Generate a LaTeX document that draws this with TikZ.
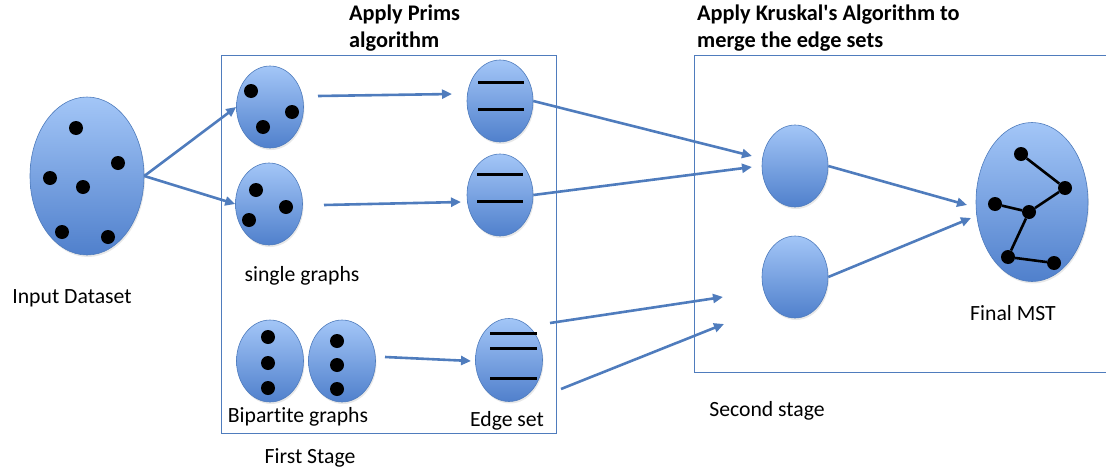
\documentclass[tikz,border=0pt]{standalone}
\usepackage{fontspec}
\setmainfont{Carlito}[Ligatures={TeX,NoCommon}]
\usetikzlibrary{shapes.geometric,arrows.meta,shadows}
\definecolor{edgeblue}{RGB}{79,124,189}
\definecolor{balltop}{RGB}{163,198,247}
\definecolor{ballbot}{RGB}{80,128,204}
\tikzset{
  ball/.style={ellipse, inner sep=0pt, draw=edgeblue, line width=0.6pt,
    top color=balltop, bottom color=ballbot,
    drop shadow={opacity=0.18, shadow xshift=1pt, shadow yshift=-2pt}},
  dot/.style={circle, fill=black, inner sep=0pt, minimum size=14pt},
  arr/.style={draw=edgeblue, line width=2.6pt, -{Triangle[length=10pt,width=9pt]}},
  bar/.style={line width=3pt, black},
  mstedge/.style={line width=2.6pt, black},
  stagebox/.style={draw=edgeblue, line width=1pt},
  lbl/.style={font=\fontsize{21.7}{26}\selectfont},
  title/.style={font=\fontsize{22.3}{26.5}\selectfont\bfseries, align=left, anchor=north west, inner sep=0pt}
}
\begin{document}
\begin{tikzpicture}[x=1pt,y=-1pt]
\useasboundingbox (0,0) rectangle (1106,474);

% stage frames
\draw[stagebox] (221,55) rectangle (556,433);
\draw[stagebox] (1106,55) -- (694,55) -- (694,372) -- (1106,372);

% titles
\node[title] (ttlprim) at (349,5) {Apply Prims\\algorithm};
\node[title] (ttlkrus) at (697,5) {Apply Kruskal\textquotesingle s Algorithm to\\merge the edge sets};

% input dataset
\node[ball, minimum width=114pt, minimum height=158pt] (in) at (87,176) {};
\node[dot] (in1) at (76,128) {};
\node[dot] (in2) at (118,163) {};
\node[dot] (in3) at (50,178) {};
\node[dot] (in4) at (83,187) {};
\node[dot] (in5) at (62,232) {};
\node[dot] (in6) at (108,237) {};
\node[lbl] (inlbl) at (72,298) {Input Dataset};

% single graphs
\node[ball, minimum width=67pt, minimum height=82pt] (g1) at (270,107) {};
\node[dot] (g1a) at (251,91) {};
\node[dot] (g1b) at (292,112) {};
\node[dot] (g1c) at (263,127) {};
\node[ball, minimum width=67pt, minimum height=82pt] (g2) at (269,204) {};
\node[dot] (g2a) at (256,190) {};
\node[dot] (g2b) at (286,207) {};
\node[dot] (g2c) at (249,220) {};
\node[lbl] (glbl) at (302,276) {single graphs};

% bipartite graphs
\node[ball, minimum width=67pt, minimum height=82pt] (b1) at (270,361) {};
\node[dot] (b1a) at (268,337) {};
\node[dot] (b1b) at (268,363) {};
\node[dot] (b1c) at (268,388) {};
\node[ball, minimum width=67pt, minimum height=82pt] (b2) at (342,361) {};
\node[dot] (b2a) at (337,341) {};
\node[dot] (b2b) at (337,365) {};
\node[dot] (b2c) at (337,389) {};
\node[lbl] (blbl) at (298,417) {Bipartite graphs};

% edge sets
\node[ball, minimum width=66pt, minimum height=82pt] (e1) at (500,101) {};
\draw[bar] (478,82) -- (524,82);
\draw[bar] (478,109) -- (524,109);
\node[ball, minimum width=66pt, minimum height=82pt] (e2) at (500,195) {};
\draw[bar] (477,174) -- (523,174);
\draw[bar] (477,201) -- (523,201);
\node[ball, minimum width=67pt, minimum height=83pt] (e3) at (509,360) {};
\draw[bar] (490,333) -- (537,333);
\draw[bar] (490,348) -- (537,348);
\draw[bar] (490,378) -- (537,378);
\node[lbl] (elbl) at (507,421) {Edge set};
\node[lbl] (s1lbl) at (310,458) {First Stage};

% second stage
\node[ball, minimum width=66pt, minimum height=82pt] (c1) at (795,166) {};
\node[ball, minimum width=66pt, minimum height=82pt] (c2) at (795,277) {};
\node[lbl] (s2lbl) at (767,411) {Second stage};

% final MST
\node[ball, minimum width=112pt, minimum height=159pt] (f) at (1032,202) {};
\node[dot] (f1) at (1021,154) {};
\node[dot] (f2) at (1065,188) {};
\node[dot] (f3) at (995,204) {};
\node[dot] (f4) at (1029,212) {};
\node[dot] (f5) at (1008,257) {};
\node[dot] (f6) at (1054,263) {};
\draw[mstedge] (f1) -- (f2) -- (f4) -- (f5) -- (f6);
\draw[mstedge] (f3) -- (f4);
\node[lbl] (flbl) at (1013,313) {Final MST};

% arrow end points
\coordinate (g1out) at (318,96);
\coordinate (e1in) at (452,94);
\coordinate (g2out) at (324,205);
\coordinate (e2in) at (461,202);
\coordinate (b2out) at (385,357);
\coordinate (e3in) at (471,361);
\coordinate (c1ina) at (752,156);
\coordinate (c1inb) at (752,167);
\coordinate (e3outa) at (550,323);
\coordinate (e3outb) at (561,389);
\coordinate (freea) at (723,297);
\coordinate (freeb) at (724,324);
\coordinate (fina) at (967,205);
\coordinate (finb) at (971,218);

% connectors
\draw[arr] (in.east) -- (g1.west);
\draw[arr] (in.east) -- (g2.west);
\draw[arr] (g1out) -- (e1in);
\draw[arr] (g2out) -- (e2in);
\draw[arr] (b2out) -- (e3in);
\draw[arr] (e1.east) -- (c1ina);
\draw[arr] (e2.east) -- (c1inb);
\draw[arr] (e3outa) -- (freea);
\draw[arr] (e3outb) -- (freeb);
\draw[arr] (c1.east) -- (fina);
\draw[arr] (c2.east) -- (finb);
\end{tikzpicture}
\end{document}
